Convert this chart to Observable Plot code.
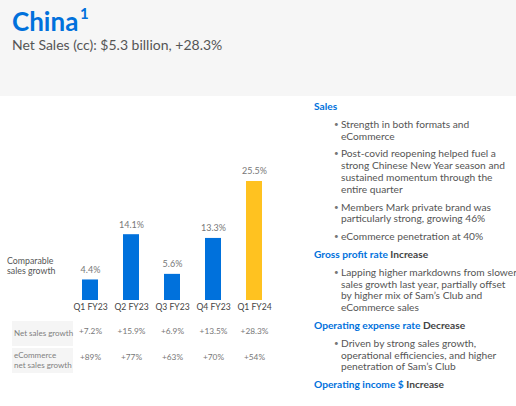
<!DOCTYPE html>
<html>
<head>
<meta charset="utf-8">
<script src="https://cdn.jsdelivr.net/npm/d3@7"></script>
<script src="https://cdn.jsdelivr.net/npm/@observablehq/plot@0.6"></script>
<style>
  html, body { margin: 0; padding: 0; background: #fff; }
  #page { position: relative; width: 516px; height: 406px; overflow: hidden; font-family: Lato, "Open Sans", sans-serif; background: #fff; }
  #header { position: absolute; left: 0; top: 0; width: 516px; height: 96px; background: #f6f6f6; }
  #title { position: absolute; left: 12px; top: 8px; font-size: 26px; font-weight: 700; color: #0071dc; line-height: 27px; white-space: nowrap; }
  #sup { position: absolute; left: 80px; top: 5px; font-size: 15px; font-weight: 700; color: #0071dc; line-height: 16px; }
  #subtitle { position: absolute; left: 12px; top: 37px; font-size: 14px; color: #555; line-height: 16px; white-space: nowrap; }
  #chart { position: absolute; left: 0; top: 140px; }
  #comp { position: absolute; left: 7px; top: 256px; font-size: 8.8px; color: #555; line-height: 10px; }
  .rowhead { position: absolute; left: 12px; width: 61px; background: #f5f5f5; font-size: 8px; color: #808080; line-height: 9.5px; box-sizing: border-box; padding-left: 2px; display: flex; align-items: center; white-space: nowrap; }
  #right { position: absolute; left: 314px; top: 101px; width: 200px; font-size: 10.2px; color: #555; line-height: 11.8px; white-space: nowrap; }
  #right .h { font-weight: 700; color: #0071dc; margin-bottom: 6px; }
  #right .h span { color: #444; }
  #right ul { margin: 0 0 6px 0; padding: 0 0 0 27px; list-style: none; }
  #right li { position: relative; margin-bottom: 6px; }
  #right li::before { content: "•"; position: absolute; left: -7px; color: #777; font-size: 8px; }
</style>
</head>
<body>
<div id="page">
  <div id="header"></div>
  <div id="title">China</div>
  <div id="sup">1</div>
  <div id="subtitle">Net Sales (cc): $5.3 billion, +28.3%</div>
  <div id="chart"></div>
  <div id="comp">Comparable<br>sales growth</div>
  <div class="rowhead" style="top:321px;height:25px;">Net sales growth</div>
  <div class="rowhead" style="top:348px;height:25px;">eCommerce<br>net sales growth</div>
  <div id="right">
    <div class="h">Sales</div>
    <ul>
      <li>Strength in both formats and<br>eCommerce</li>
      <li>Post-covid reopening helped fuel a<br>strong Chinese New Year season and<br>sustained momentum through the<br>entire quarter</li>
      <li>Members Mark private brand was<br>particularly strong, growing 46%</li>
      <li>eCommerce penetration at 40%</li>
    </ul>
    <div class="h">Gross profit rate <span>Increase</span></div>
    <ul>
      <li>Lapping higher markdowns from slower<br>sales growth last year, partially offset<br>by higher mix of Sam’s Club and<br>eCommerce sales</li>
    </ul>
    <div class="h">Operating expense rate <span>Decrease</span></div>
    <ul>
      <li>Driven by strong sales growth,<br>operational efficiencies, and higher<br>penetration of Sam’s Club</li>
    </ul>
    <div class="h">Operating income $ <span>Increase</span></div>
  </div>
</div>
<script>
const quarters = ["Q1 FY23", "Q2 FY23", "Q3 FY23", "Q4 FY23", "Q1 FY24"];
const compGrowth = [4.4, 14.1, 5.6, 13.3, 25.5];
const compLabels = ["4.4%", "14.1%", "5.6%", "13.3%", "25.5%"];
const netSalesGrowth = ["+7.2%", "+15.9%", "+6.9%", "+13.5%", "+28.3%"];
const ecomGrowth = ["+89%", "+77%", "+63%", "+70%", "+54%"];
const highlight = "Q1 FY24";

const blue = "#0071dc";
const yellow = "#ffc220";

const rows = quarters.map((q, i) => ({
  q, v: compGrowth[i], label: compLabels[i], net: netSalesGrowth[i], ecom: ecomGrowth[i],
  color: q === highlight ? yellow : blue
}));

const plot = Plot.plot({
  width: 300,
  height: 240,
  marginTop: 41,
  marginBottom: 80,
  marginLeft: 0,
  marginRight: 0,
  style: { fontFamily: "Lato, 'Open Sans', sans-serif", fontSize: "8.6px", color: "#444", background: "transparent" },
  x: { domain: quarters, range: [67, 276], paddingInner: 0.62, paddingOuter: 0.31, label: null, tickSize: 0, tickPadding: 3 },
  y: { domain: [0, 25.5], axis: null },
  color: { type: "identity" },
  marks: [
    Plot.barY(rows, { x: "q", y: "v", fill: "color" }),
    Plot.text(rows, { x: "q", y: "v", text: "label", dy: -10, fill: "#777", fontSize: 9 }),
    Plot.text(rows, { x: "q", text: "net", frameAnchor: "bottom", dy: 33, fill: "#777", fontSize: 8.3 }),
    Plot.text(rows, { x: "q", text: "ecom", frameAnchor: "bottom", dy: 59, fill: "#777", fontSize: 8.3 })
  ]
});
document.getElementById("chart").appendChild(plot);
</script>
</body>
</html>
